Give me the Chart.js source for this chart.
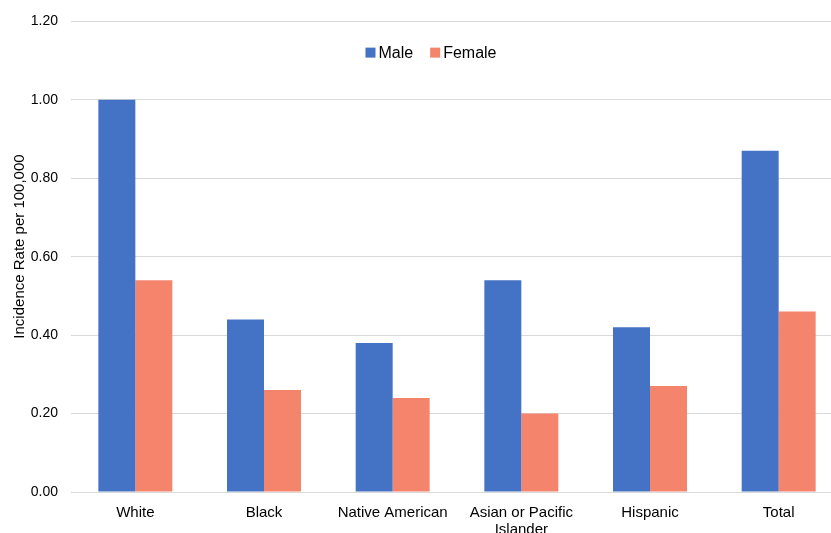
<!DOCTYPE html>
<html>
<head>
<meta charset="utf-8">
<script src="https://cdn.jsdelivr.net/npm/chart.js@4/dist/chart.umd.min.js"></script>
<style>
  html, body { margin: 0; padding: 0; background: #fff; overflow: hidden; }
  #wrap { width: 831px; height: 533px; overflow: hidden; }
  #c { display: block; }
</style>
</head>
<body>
<div id="wrap"><canvas id="c" width="843" height="533"></canvas></div>
<script>
// Incidence rate per 100,000 by race/ethnicity and sex
const categories = ['White', 'Black', 'Native American', ['Asian or Pacific', 'Islander'], 'Hispanic', 'Total'];
const maleRates = [1.00, 0.44, 0.38, 0.54, 0.42, 0.87];
const femaleRates = [0.54, 0.26, 0.24, 0.20, 0.27, 0.46];
const yTicks = [0, 0.2, 0.4, 0.6, 0.8, 1.0, 1.2];
const yTitle = 'Incidence Rate per 100,000';

const FONT = '"Liberation Sans", Arial, sans-serif';
const GRID = '#d9d9d9';

// Legend inside the plot area between the top two gridlines, plus the rotated y-axis title
const annotations = {
  id: 'annotations',
  afterDraw(chart) {
    const ctx = chart.ctx;
    const y = chart.scales.y;
    const cy = (y.getPixelForValue(1.2) + y.getPixelForValue(1.0)) / 2 - 8;
    ctx.save();
    ctx.font = '16px ' + FONT;
    ctx.textBaseline = 'middle';
    const box = 10, gapBox = 3, gapItem = 17;
    const items = chart.data.datasets.map(ds => ({ text: ds.label, color: ds.backgroundColor }));
    const widths = items.map(it => box + gapBox + ctx.measureText(it.text).width);
    const total = widths.reduce((a, b) => a + b, 0) + gapItem * (items.length - 1);
    let x = 431 - total / 2;
    items.forEach((it, i) => {
      ctx.fillStyle = it.color;
      ctx.fillRect(x, cy - box / 2, box, box);
      ctx.fillStyle = '#000';
      ctx.fillText(it.text, x + box + gapBox, cy + 1);
      x += widths[i] + gapItem;
    });
    ctx.restore();

    // y-axis title
    ctx.save();
    ctx.translate(20, 246.5);
    ctx.rotate(-Math.PI / 2);
    ctx.font = '15px ' + FONT;
    ctx.fillStyle = '#000';
    ctx.textAlign = 'center';
    ctx.textBaseline = 'middle';
    ctx.fillText(yTitle, 0, 0);
    ctx.restore();
  }
};

new Chart(document.getElementById('c'), {
  type: 'bar',
  data: {
    labels: categories,
    datasets: [
      { label: 'Male', data: maleRates, backgroundColor: '#4472C4' },
      { label: 'Female', data: femaleRates, backgroundColor: '#F4846C' }
    ]
  },
  options: {
    responsive: false,
    animation: false,
    devicePixelRatio: 1,
    layout: { padding: { top: 19, right: 0, bottom: 0, left: 0 } },
    datasets: { bar: { barPercentage: 1.0, categoryPercentage: 0.575 } },
    plugins: {
      legend: { display: false },
      tooltip: { enabled: false }
    },
    scales: {
      x: {
        grid: { display: false },
        border: { display: true, color: GRID, width: 1 },
        ticks: {
          color: '#000',
          font: { family: FONT, size: 15, lineHeight: 1.1 },
          padding: 5,
          maxRotation: 0,
          autoSkip: false
        },
        afterFit(scale) { scale.height = 41; }
      },
      y: {
        min: 0,
        max: 1.2,
        afterBuildTicks(scale) { scale.ticks = yTicks.map(v => ({ value: v })); },
        grid: { color: GRID, drawTicks: false, lineWidth: 1 },
        border: { display: false },
        ticks: {
          color: '#000',
          font: { family: FONT, size: 14 },
          padding: 13,
          callback: v => Number(v).toFixed(2)
        },
        afterFit(scale) { scale.width = 71; }
      }
    }
  },
  plugins: [annotations]
});
</script>
</body>
</html>
